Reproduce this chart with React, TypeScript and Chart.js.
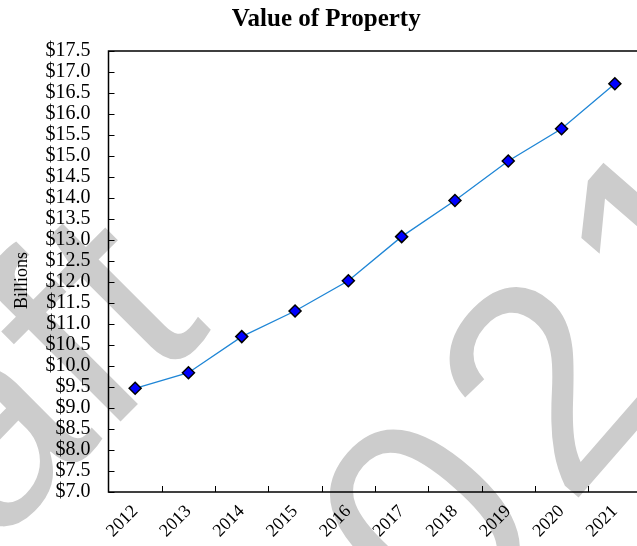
import React, { useEffect, useRef } from 'react';
import { Chart, registerables } from 'chart.js';

Chart.register(...registerables);

// ---- data ----
const years = ['2012', '2013', '2014', '2015', '2016', '2017', '2018', '2019', '2020', '2021'];
const propertyValues = [9.47, 9.84, 10.7, 11.31, 12.03, 13.08, 13.94, 14.88, 15.65, 16.72];
const yMin = 7.0;
const yMax = 17.5;
const yStep = 0.5;
const chartTitle = 'Value of Property';
const yAxisTitle = 'Billions    ';
const watermarkLines = ['Draft', '2021'];

// ---- layout / style constants ----
const CANVAS_W = 655;
const CANVAS_H = 546;
const PAD_LEFT = 11;
const PAD_RIGHT = 13.5;
const PLOT_LEFT = 108.5;
const X_AXIS_H = 54;
const SERIF = '"Liberation Serif", "Times New Roman", serif';

const framePlugin = {
  id: 'frameAndWatermark',
  beforeDraw(chart: any) {
    const ctx = chart.ctx;
    ctx.save();
    ctx.fillStyle = '#cccccc';
    ctx.textBaseline = 'alphabetic';
    ctx.textAlign = 'left';
    // line 1
    ctx.save();
    ctx.font = '280px "Liberation Sans", Arial, sans-serif';
    ctx.translate(-216, 758);
    ctx.rotate((-45 * Math.PI) / 180);
    ctx.fillText(watermarkLines[0], 0, 0);
    ctx.restore();
    // line 2
    ctx.save();
    ctx.font = '292px "Liberation Sans", Arial, sans-serif';
    (ctx as any).letterSpacing = '22px';
    ctx.translate(327, 787);
    ctx.rotate((-49 * Math.PI) / 180);
    ctx.fillText(watermarkLines[1], 0, 0);
    ctx.restore();
    ctx.restore();
  },
  afterDraw(chart: any) {
    const { ctx, chartArea } = chart;
    const { left, top, right, bottom } = chartArea;
    const xs = chart.scales.x;
    const ys = chart.scales.y;
    ctx.save();
    ctx.strokeStyle = '#000';
    ctx.lineWidth = 1;
    ys.ticks.forEach((_t: any, i: number) => {
      const py = Math.round(ys.getPixelForTick(i)) + 0.5;
      ctx.beginPath();
      ctx.moveTo(left, py);
      ctx.lineTo(left + 6, py);
      ctx.stroke();
    });
    for (let i = 1; i <= years.length; i++) {
      const a = xs.getPixelForValue(i - 1);
      const b = i < years.length ? xs.getPixelForValue(i) : a + (a - xs.getPixelForValue(i - 2));
      const px = Math.round((a + b) / 2) + 0.5;
      ctx.beginPath();
      ctx.moveTo(px, bottom);
      ctx.lineTo(px, bottom - 6);
      ctx.stroke();
    }
    ctx.lineWidth = 1.5;
    ctx.strokeRect(left, top, right - left, bottom - top);
    ctx.restore();
  },
};

export default function App() {
  const canvasRef = useRef<HTMLCanvasElement | null>(null);

  useEffect(() => {
    const canvas = canvasRef.current;
    if (!canvas) return;
    const chart = new Chart(canvas, {
      type: 'line',
      data: {
        labels: years,
        datasets: [
          {
            data: propertyValues,
            borderColor: '#1f86d6',
            borderWidth: 1.3,
            pointStyle: 'rectRot',
            pointRadius: 6,
            pointBackgroundColor: '#0000ff',
            pointBorderColor: '#000000',
            pointBorderWidth: 1.5,
            tension: 0,
            fill: false,
          },
        ],
      },
      options: {
        animation: false,
        responsive: false,
        devicePixelRatio: 1,
        layout: { padding: { left: PAD_LEFT, right: PAD_RIGHT, top: 0, bottom: 0 } },
        plugins: {
          legend: { display: false },
          tooltip: { enabled: false },
          title: {
            display: true,
            text: chartTitle,
            color: '#000',
            font: { family: SERIF, size: 25, weight: 'bold' },
            padding: { top: 5, bottom: 16 },
          },
        },
        scales: {
          x: {
            type: 'category',
            offset: true,
            grid: { display: false, drawTicks: false },
            border: { display: false },
            ticks: {
              color: '#000',
              font: { family: SERIF, size: 18 },
              minRotation: 45,
              maxRotation: 45,
              autoSkip: false,
              padding: 9,
            },
            afterFit: (s: any) => {
              s.height = X_AXIS_H;
              s.paddingLeft = 0;
              s.paddingRight = 0;
            },
          },
          y: {
            type: 'linear',
            min: yMin,
            max: yMax,
            grid: { display: false, drawTicks: false },
            border: { display: false },
            ticks: {
              stepSize: yStep,
              autoSkip: false,
              maxTicksLimit: 100,
              color: '#000',
              font: { family: SERIF, size: 20 },
              padding: 18,
              callback: (v: any) => '$' + Number(v).toFixed(1),
            },
            title: {
              display: true,
              text: yAxisTitle,
              color: '#000',
              font: { family: SERIF, size: 18 },
              padding: { top: 0, bottom: 4 },
            },
            afterFit: (s: any) => {
              s.width = PLOT_LEFT - PAD_LEFT;
            },
          },
        },
      },
      plugins: [framePlugin],
    } as any);
    return () => chart.destroy();
  }, []);

  return (
    <div
      style={{
        position: 'fixed',
        left: 0,
        top: 0,
        width: 637,
        height: 546,
        overflow: 'hidden',
        background: '#fff',
      }}
    >
      <canvas
        ref={canvasRef}
        width={CANVAS_W}
        height={CANVAS_H}
        style={{ display: 'block', width: CANVAS_W, height: CANVAS_H }}
      />
    </div>
  );
}
